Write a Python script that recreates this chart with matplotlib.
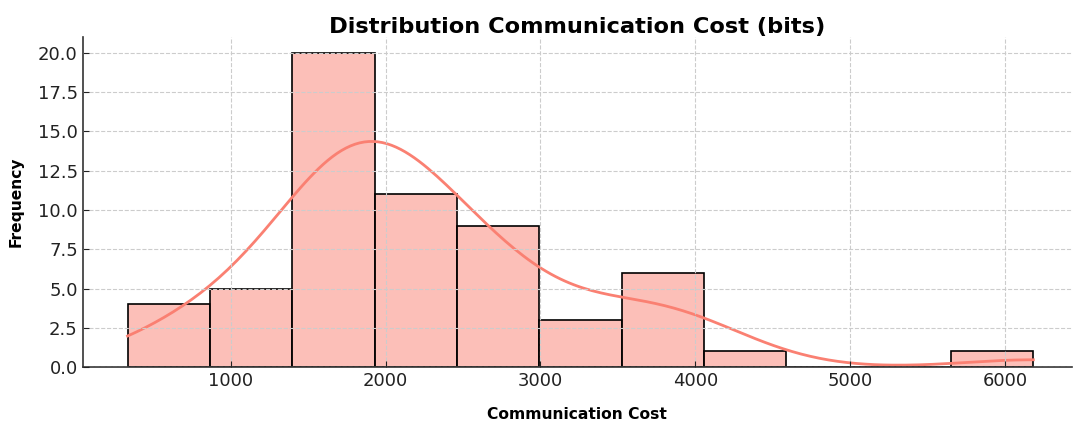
import matplotlib
matplotlib.use('Agg')
import matplotlib.pyplot as plt
import seaborn as sns

# communication cost per sample (bits), 60 samples
cost_bits = [
    335, 660, 790, 855,
    900, 1060, 1200, 1300, 1380,
    1430, 1470, 1510, 1550, 1590, 1630, 1670, 1700, 1730, 1760,
    1790, 1810, 1830, 1850, 1865, 1880, 1895, 1905, 1915, 1925,
    1945, 1980, 2020, 2070, 2120, 2170, 2220, 2280, 2340, 2390, 2440,
    2470, 2510, 2560, 2610, 2660, 2710, 2760, 2830, 2920,
    3150, 3300, 3450,
    3560, 3650, 3750, 3850, 3950, 4030,
    4300,
    6181,
]
n_bins = 11

fig, ax = plt.subplots(figsize=(10.73, 4.23), dpi=100)
sns.histplot(cost_bits, bins=n_bins, kde=True, color='salmon', edgecolor='black',
             linewidth=1.2, alpha=0.5, line_kws={'linewidth': 2}, ax=ax)
ax.lines[0].set_color('salmon')

ax.set_title('Distribution Communication Cost (bits)', fontsize=16.2,
             fontfamily='DejaVu Sans', fontweight='bold', pad=0.5)
ax.set_xlabel('Communication Cost', fontsize=11.2, fontfamily='DejaVu Sans',
              fontweight='bold', labelpad=12)
ax.set_ylabel('Frequency', fontsize=11.2, fontfamily='DejaVu Sans',
              fontweight='bold', labelpad=10)

ax.set_xlim(45, 6430)
ax.set_ylim(0, 21)
ax.grid(True, linestyle='--', color='#cccccc', linewidth=0.8)
ax.set_axisbelow(False)
ax.tick_params(direction='in', length=4, labelsize=13, colors='#222222')
for side in ['top', 'right']:
    ax.spines[side].set_visible(False)
for side in ['left', 'bottom']:
    ax.spines[side].set_color('#333333')
    ax.spines[side].set_linewidth(1.2)

plt.subplots_adjust(left=0.077, right=0.999, top=0.912, bottom=0.132)
plt.savefig('out.png', dpi=100)
